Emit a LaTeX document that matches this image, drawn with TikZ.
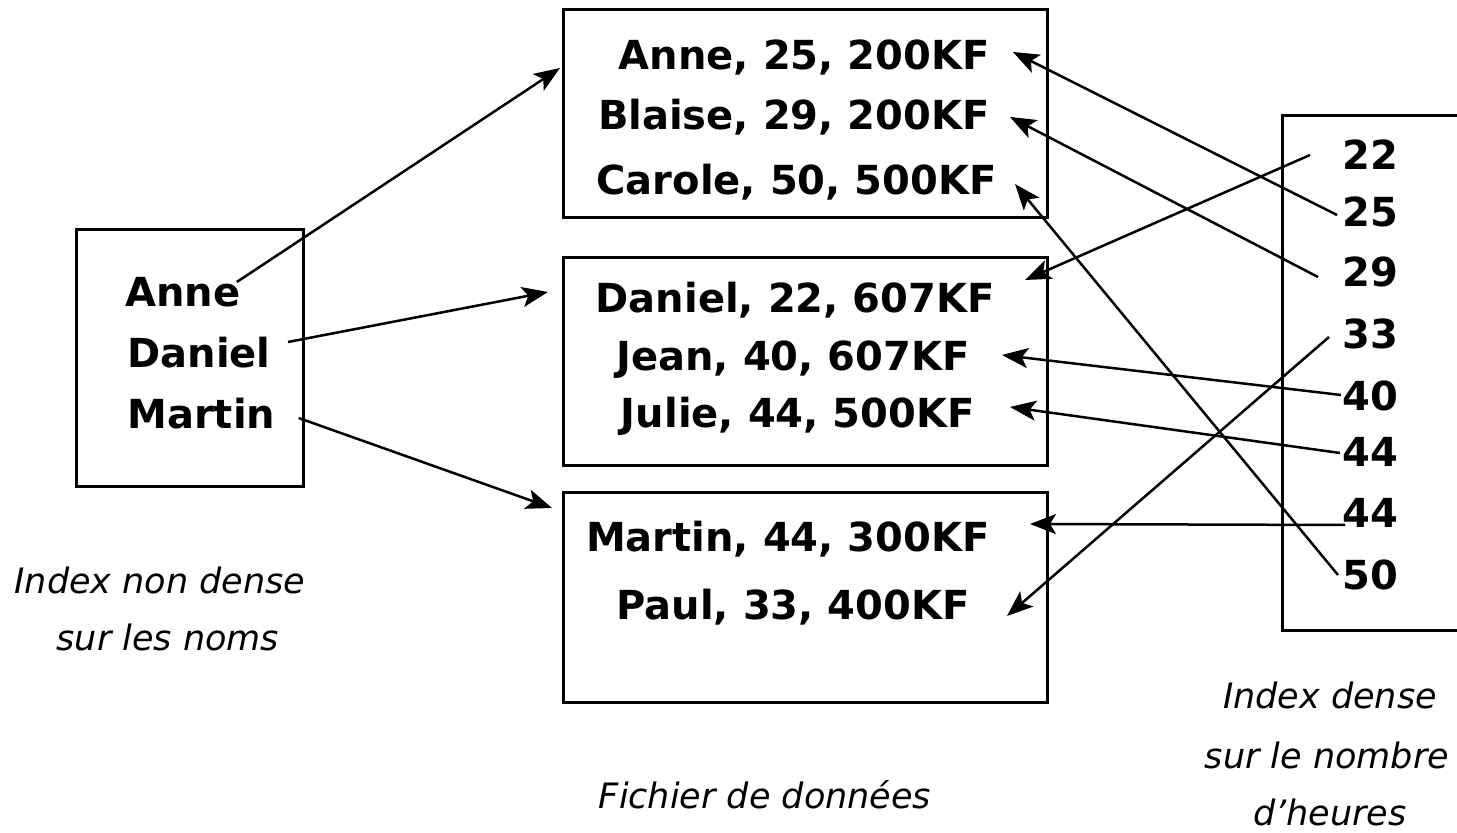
\documentclass[tikz,border=0pt]{standalone}
\usepackage{fontspec}
\setmainfont{DejaVu Sans}[BoldFont={DejaVu Sans Bold}, ItalicFont={DejaVu Sans Oblique}]
\usetikzlibrary{arrows.meta,calc}
\tikzset{
  boite/.style={draw, line width=1.5pt, inner sep=0pt, outer sep=0pt, anchor=north west},
  entree/.style={font=\fontsize{20}{24}\selectfont\bfseries, inner sep=0pt, text height=15pt, text depth=0pt},
  legende/.style={font=\fontsize{17.5}{21}\selectfont\itshape, inner sep=0pt},
  fleche/.style={line width=1.25pt, -{Stealth[length=13pt,width=10pt,inset=3pt]}}
}
\begin{document}
\begin{tikzpicture}[x=0.5pt, y=-0.5pt]
    \useasboundingbox (0,0) rectangle (1457,833);

    % Index non dense sur les noms
    \node[boite, minimum width=113.5pt, minimum height=128.5pt] (boiteNoms) at (76,230) {};
    \node[entree, anchor=west] (idxAnne) at (125,292) {Anne};
    \node[entree, anchor=west] (idxDaniel) at (127,353) {Daniel};
    \node[entree, anchor=west] (idxMartin) at (127,414) {Martin};
    \node[legende] (legNoms1) at (160,580) {Index non dense};
    \node[legende] (legNoms2) at (168,637) {sur les noms};

    % Fichier de donnees (trois blocs)
    \node[boite, minimum width=242pt, minimum height=104pt] (boiteA) at (563,10) {};
    \node[boite, minimum width=242pt, minimum height=104pt] (boiteB) at (563,258) {};
    \node[boite, minimum width=242pt, minimum height=105pt] (boiteC) at (563,493) {};
    \node[entree, anchor=east] (recAnne) at (990,55) {Anne, 25, 200KF};
    \node[entree, anchor=east] (recBlaise) at (990,115) {Blaise, 29, 200KF};
    \node[entree, anchor=east] (recCarole) at (997,180) {Carole, 50, 500KF};
    \node[entree, anchor=east] (recDaniel) at (995,298) {Daniel, 22, 607KF};
    \node[entree, anchor=east] (recJean) at (970,356) {Jean, 40, 607KF};
    \node[entree, anchor=east] (recJulie) at (975,413) {Julie, 44, 500KF};
    \node[entree, anchor=east] (recMartin) at (990,537) {Martin, 44, 300KF};
    \node[entree, anchor=east] (recPaul) at (970,605) {Paul, 33, 400KF};
    \node[legende] (legFichier) at (765,795) {Fichier de données};

    % Index dense sur le nombre d'heures
    \node[boite, minimum width=120pt, minimum height=257.5pt] (boiteHeures) at (1282,116) {};
    \node[entree, anchor=west] (n22) at (1342,155) {22};
    \node[entree, anchor=west] (n25) at (1342,212) {25};
    \node[entree, anchor=west] (n29) at (1342,272) {29};
    \node[entree, anchor=west] (n33) at (1342,334) {33};
    \node[entree, anchor=west] (n40) at (1342,396) {40};
    \node[entree, anchor=west] (n44a) at (1342,452) {44};
    \node[entree, anchor=west] (n44b) at (1342,513) {44};
    \node[entree, anchor=west] (n50) at (1342,575) {50};
    \node[legende] (legHeures1) at (1330,695) {Index dense};
    \node[legende] (legHeures2) at (1327,755) {sur le nombre};
    \node[legende] (legHeures3) at (1330,812) {d'heures};

    % Pointeurs de l'index non dense
    \draw[fleche] ($(idxAnne.east)+(-4,-10)$) -- ($(boiteA.north west)+(-3,58)$);
    \draw[fleche] ($(idxDaniel.east)+(17,-11)$) -- ($(boiteB.north west)+(-15,34)$);
    \draw[fleche] ($(idxMartin.east)+(23,4)$) -- ($(boiteC.north west)+(-11,15)$);

    % Pointeurs de l'index dense
    \draw[fleche] ($(n22.west)+(-32,0)$) -- ($(recDaniel.east)+(30,-18)$);
    \draw[fleche] ($(n25.west)+(-5,3)$) -- ($(recAnne.east)+(23,-3)$);
    \draw[fleche] ($(n29.west)+(-24,5)$) -- ($(recBlaise.east)+(20,2)$);
    \draw[fleche] ($(n33.west)+(-13,3)$) -- ($(recPaul.east)+(37,11)$);
    \draw[fleche] ($(n40.west)+(-1,-1)$) -- ($(recJean.east)+(32,-1)$);
    \draw[fleche] ($(n44a.west)+(-2,1)$) -- ($(recJulie.east)+(35,-6)$);
    \draw[fleche] ($(n44b.west)+(3,12)$) -- ($(recMartin.east)+(40,-13)$);
    \draw[fleche] ($(n50.west)+(-4,0)$) -- ($(recCarole.east)+(18,4)$);
\end{tikzpicture}
\end{document}
